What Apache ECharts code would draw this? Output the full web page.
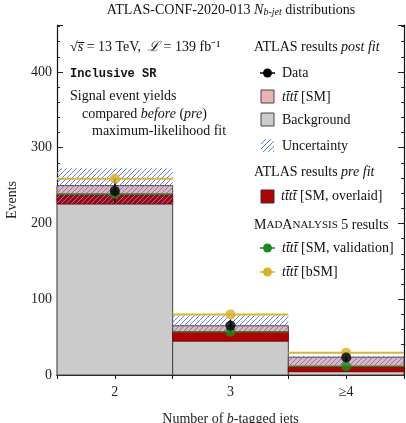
<!DOCTYPE html>
<html lang="en">
  <head>
    <meta charset="UTF-8" />
    <title>ATLAS-CONF-2020-013 Nb-jet</title>
    <style type="text/css">
      html, body { margin: 0; padding: 0; background: #fff; }
      #main { width: 406px; height: 423px; }
    </style>
  </head>
  <body>
    <div id="main"></div>
    <script src="https://cdn.jsdelivr.net/npm/echarts@6/dist/echarts.min.js"></script>
    <script type="text/javascript">
      // values
      var binLabels = ["2", "3", "≥4"];
      var binCenters = [2, 3, 4];
      var background = [226, 45, 4.5];
      var ttttPostFit = [24, 20, 19];
      var ttttPreFit = [12, 12.3, 6.5];
      var uncLow = [226, 58, 13];
      var uncHigh = [273, 79, 25];
      var dataYield = [243, 65, 23];
      var dataErr = [16, 8, 5];
      var ma5Validation = [239, 57, 11.5];
      var ma5Bsm = [259, 80, 29.5];

      var serif = "Liberation Serif";
      var fs = 14;
      var chartDom = document.getElementById("main");
      var myChart = echarts.init(chartDom, null, { renderer: "canvas" });

      function hatchPattern(color, size) {
        var c = document.createElement("canvas");
        c.width = size;
        c.height = size;
        var g = c.getContext("2d");
        g.strokeStyle = color;
        g.lineWidth = 1;
        g.beginPath();
        g.moveTo(0, size);
        g.lineTo(size, 0);
        g.moveTo(-1, 1);
        g.lineTo(1, -1);
        g.moveTo(size - 1, size + 1);
        g.lineTo(size + 1, size - 1);
        g.stroke();
        return { image: c, repeat: "repeat" };
      }
      var hatch = hatchPattern("#5f7ff2", 5);

      // [center, low, high] rows for the stacked pieces
      var bkgRows = [], postRows = [], preRows = [], uncRows = [];
      var dataRows = [], valRows = [], bsmRows = [];
      for (var i = 0; i < binCenters.length; i++) {
        var c = binCenters[i];
        bkgRows.push([c, 0, background[i]]);
        postRows.push([c, background[i], background[i] + ttttPostFit[i]]);
        preRows.push([c, background[i], background[i] + ttttPreFit[i]]);
        uncRows.push([c, uncLow[i], uncHigh[i]]);
        dataRows.push([c, dataYield[i], dataErr[i]]);
        valRows.push([c, ma5Validation[i]]);
        bsmRows.push([c, ma5Bsm[i]]);
      }

      function binRect(style) {
        return function (params, api) {
          var c = api.value(0);
          var p0 = api.coord([c - 0.5, api.value(2)]);
          var p1 = api.coord([c + 0.5, api.value(1)]);
          return {
            type: "rect",
            shape: { x: p0[0], y: p0[1], width: p1[0] - p0[0], height: p1[1] - p0[1] },
            style: style
          };
        };
      }

      function stepLine(color, width) {
        return function (params, api) {
          var c = api.value(0);
          var a = api.coord([c - 0.5, api.value(1)]);
          var b = api.coord([c + 0.5, api.value(1)]);
          return {
            type: "line",
            shape: { x1: a[0], y1: a[1], x2: b[0], y2: b[1] },
            style: { stroke: color, lineWidth: width }
          };
        };
      }

      function errBar(params, api) {
        var c = api.value(0), v = api.value(1), e = api.value(2);
        var a = api.coord([c, v - e]);
        var b = api.coord([c, v + e]);
        return {
          type: "line",
          shape: { x1: a[0], y1: a[1], x2: b[0], y2: b[1] },
          style: { stroke: "#000", lineWidth: 1.5 }
        };
      }

      function yTicks(pos, interval, len) {
        return {
          type: "value",
          position: pos,
          min: 0,
          max: 462,
          interval: interval,
          axisLine: { show: false },
          axisTick: { show: true, inside: true, length: len, lineStyle: { color: "#222", width: 1 } },
          axisLabel: { show: false },
          splitLine: { show: false }
        };
      }

      function label(x, y, text, rich, extra) {
        var s = { x: x, y: y, text: text, font: fs + "px '" + serif + "'", fill: "#111",
                  verticalAlign: "middle", align: "left", rich: rich || {} };
        if (extra) for (var k in extra) s[k] = extra[k];
        return { type: "text", z: 100, style: s };
      }
      var it = { fontStyle: "italic", fontFamily: serif, fontSize: fs };
      var sc = { fontFamily: serif, fontSize: 11 };

      var option = {
        animation: false,
        grid: { left: 57, right: 2, top: 25, bottom: 48, outerBoundsMode: "none" },
        xAxis: [
          {
            type: "value",
            position: "bottom",
            min: 1.5,
            max: 4.5,
            interval: 0.5,
            axisLine: { lineStyle: { color: "#111", width: 1.2 } },
            axisTick: { inside: true, length: 4, lineStyle: { color: "#111" } },
            axisLabel: {
              margin: 10,
              fontFamily: serif,
              fontSize: fs,
              color: "#222",
              formatter: function (v) {
                var idx = binCenters.indexOf(v);
                return idx >= 0 ? binLabels[idx] : "";
              }
            },
            splitLine: { show: false },
            name: "Number of {i|b}-tagged jets",
            nameLocation: "middle",
            nameGap: 37,
            nameTextStyle: {
              fontFamily: serif, fontSize: fs, color: "#222",
              rich: { i: { fontStyle: "italic", fontFamily: serif, fontSize: fs, color: "#222" } }
            }
          },
          {
            type: "value",
            position: "top",
            min: 1.5,
            max: 4.5,
            interval: 0.5,
            axisLine: { lineStyle: { color: "#111", width: 1.2 } },
            axisTick: { inside: true, length: 4, lineStyle: { color: "#111" } },
            axisLabel: { show: false },
            splitLine: { show: false }
          }
        ],
        yAxis: [
          {
            type: "value",
            position: "left",
            min: 0,
            max: 462,
            interval: 20,
            axisLine: { show: true, lineStyle: { color: "#111", width: 1.2 } },
            axisTick: { show: true, inside: true, length: 3, lineStyle: { color: "#222" } },
            axisLabel: {
              margin: 5,
              fontFamily: serif,
              fontSize: fs,
              color: "#222",
              formatter: function (v) { return v % 100 === 0 ? String(v) : ""; }
            },
            splitLine: { show: false },
            name: "Events",
            nameLocation: "middle",
            nameRotate: 90,
            nameGap: 38,
            nameTextStyle: { fontFamily: serif, fontSize: fs, color: "#222" }
          },
          yTicks("left", 100, 6),
          {
            type: "value",
            position: "right",
            min: 0,
            max: 462,
            interval: 20,
            axisLine: { show: true, lineStyle: { color: "#111", width: 1.2 } },
            axisTick: { show: true, inside: true, length: 3, lineStyle: { color: "#222" } },
            axisLabel: { show: false },
            splitLine: { show: false }
          },
          yTicks("right", 100, 6)
        ],
        series: [
          {
            type: "custom", name: "Background", z: 2,
            renderItem: binRect({ fill: "#cbcbcb", stroke: "#444", lineWidth: 1 }),
            data: bkgRows
          },
          {
            type: "custom", name: "tttt SM post fit", z: 3,
            renderItem: binRect({ fill: "#e8b3b3", stroke: "#444", lineWidth: 1 }),
            data: postRows
          },
          {
            type: "custom", name: "tttt SM pre fit", z: 4,
            renderItem: binRect({ fill: "#b30000", stroke: "#7a0000", lineWidth: 0.8 }),
            data: preRows
          },
          {
            type: "custom", name: "Uncertainty", z: 5,
            renderItem: binRect({ fill: hatch }),
            data: uncRows
          },
          {
            type: "custom", name: "bSM step", z: 6,
            renderItem: stepLine("#dbb52c", 2),
            data: bsmRows
          },
          {
            type: "custom", name: "validation step", z: 6,
            renderItem: stepLine("#1f8a1f", 1.6),
            data: valRows
          },
          {
            type: "custom", name: "Data errors", z: 7,
            renderItem: errBar,
            data: dataRows
          },
          {
            type: "scatter", name: "bSM", z: 8,
            symbol: "circle", symbolSize: 10,
            itemStyle: { color: "#d9b224" },
            data: bsmRows
          },
          {
            type: "scatter", name: "validation", z: 8,
            symbol: "circle", symbolSize: 10,
            itemStyle: { color: "#1d8a1d" },
            data: valRows
          },
          {
            type: "scatter", name: "Data", z: 9,
            symbol: "circle", symbolSize: 10,
            itemStyle: { color: "#000" },
            data: dataRows
          }
        ],
        graphic: [
          {
            type: "text", z: 100,
            style: {
              x: 231, y: 10, align: "center", verticalAlign: "middle",
              text: "ATLAS-CONF-2020-013 {i|N}{s|b-jet} distributions",
              font: fs + "px '" + serif + "'", fill: "#111",
              rich: {
                i: { fontStyle: "italic", fontFamily: serif, fontSize: fs, verticalAlign: "bottom" },
                s: { fontStyle: "italic", fontFamily: serif, fontSize: 10, verticalAlign: "bottom", padding: [4, 0, 0, 0] }
              }
            }
          },
          label(70, 47, "√{i|s̅} = 13 TeV,  {i|ℒ} = 139 fb⁻¹", { i: it }),
          label(70, 74, "Inclusive SR", {}, { font: "bold 12px 'Liberation Mono'" }),
          label(70, 96, "Signal event yields"),
          label(82, 114, "compared {i|before} ({i|pre})", { i: it }),
          label(92, 131, "maximum-likelihood fit"),

          label(254, 47, "ATLAS results {i|post fit}", { i: it }),
          { type: "line", z: 100, shape: { x1: 260, y1: 73, x2: 275, y2: 73 }, style: { stroke: "#000", lineWidth: 1.5 } },
          { type: "circle", z: 100, shape: { cx: 267.5, cy: 73, r: 4.5 }, style: { fill: "#000" } },
          label(282, 73, "Data"),
          { type: "rect", z: 100, shape: { x: 261, y: 90, width: 13, height: 13 }, style: { fill: "#e8b3b3", stroke: "#444", lineWidth: 1 } },
          label(282, 97, "{i|tt̄tt̄} [SM]", { i: it }),
          { type: "rect", z: 100, shape: { x: 261, y: 113, width: 13, height: 13 }, style: { fill: "#cbcbcb", stroke: "#444", lineWidth: 1 } },
          label(282, 120, "Background"),
          { type: "rect", z: 100, shape: { x: 261, y: 139, width: 13, height: 13 }, style: { fill: hatch } },
          label(282, 146, "Uncertainty"),

          label(254, 172, "ATLAS results {i|pre fit}", { i: it }),
          { type: "rect", z: 100, shape: { x: 261, y: 190, width: 13, height: 13 }, style: { fill: "#b30000", stroke: "#333", lineWidth: 1 } },
          label(281, 196, "{i|tt̄tt̄} [SM, overlaid]", { i: it }),

          label(254, 225, "M{s|AD}A{s|NALYSIS} 5 results", { s: sc }),
          { type: "line", z: 100, shape: { x1: 260, y1: 248, x2: 275, y2: 248 }, style: { stroke: "#1d8a1d", lineWidth: 1.5 } },
          { type: "circle", z: 100, shape: { cx: 267.5, cy: 248, r: 4.5 }, style: { fill: "#1d8a1d" } },
          label(282, 248, "{i|tt̄tt̄} [SM, validation]", { i: it }),
          { type: "line", z: 100, shape: { x1: 260, y1: 272, x2: 275, y2: 272 }, style: { stroke: "#d9b224", lineWidth: 1.5 } },
          { type: "circle", z: 100, shape: { cx: 267.5, cy: 272, r: 4.5 }, style: { fill: "#d9b224" } },
          label(282, 272, "{i|tt̄tt̄} [bSM]", { i: it })
        ]
      };

      myChart.setOption(option);
    </script>
  </body>
</html>
